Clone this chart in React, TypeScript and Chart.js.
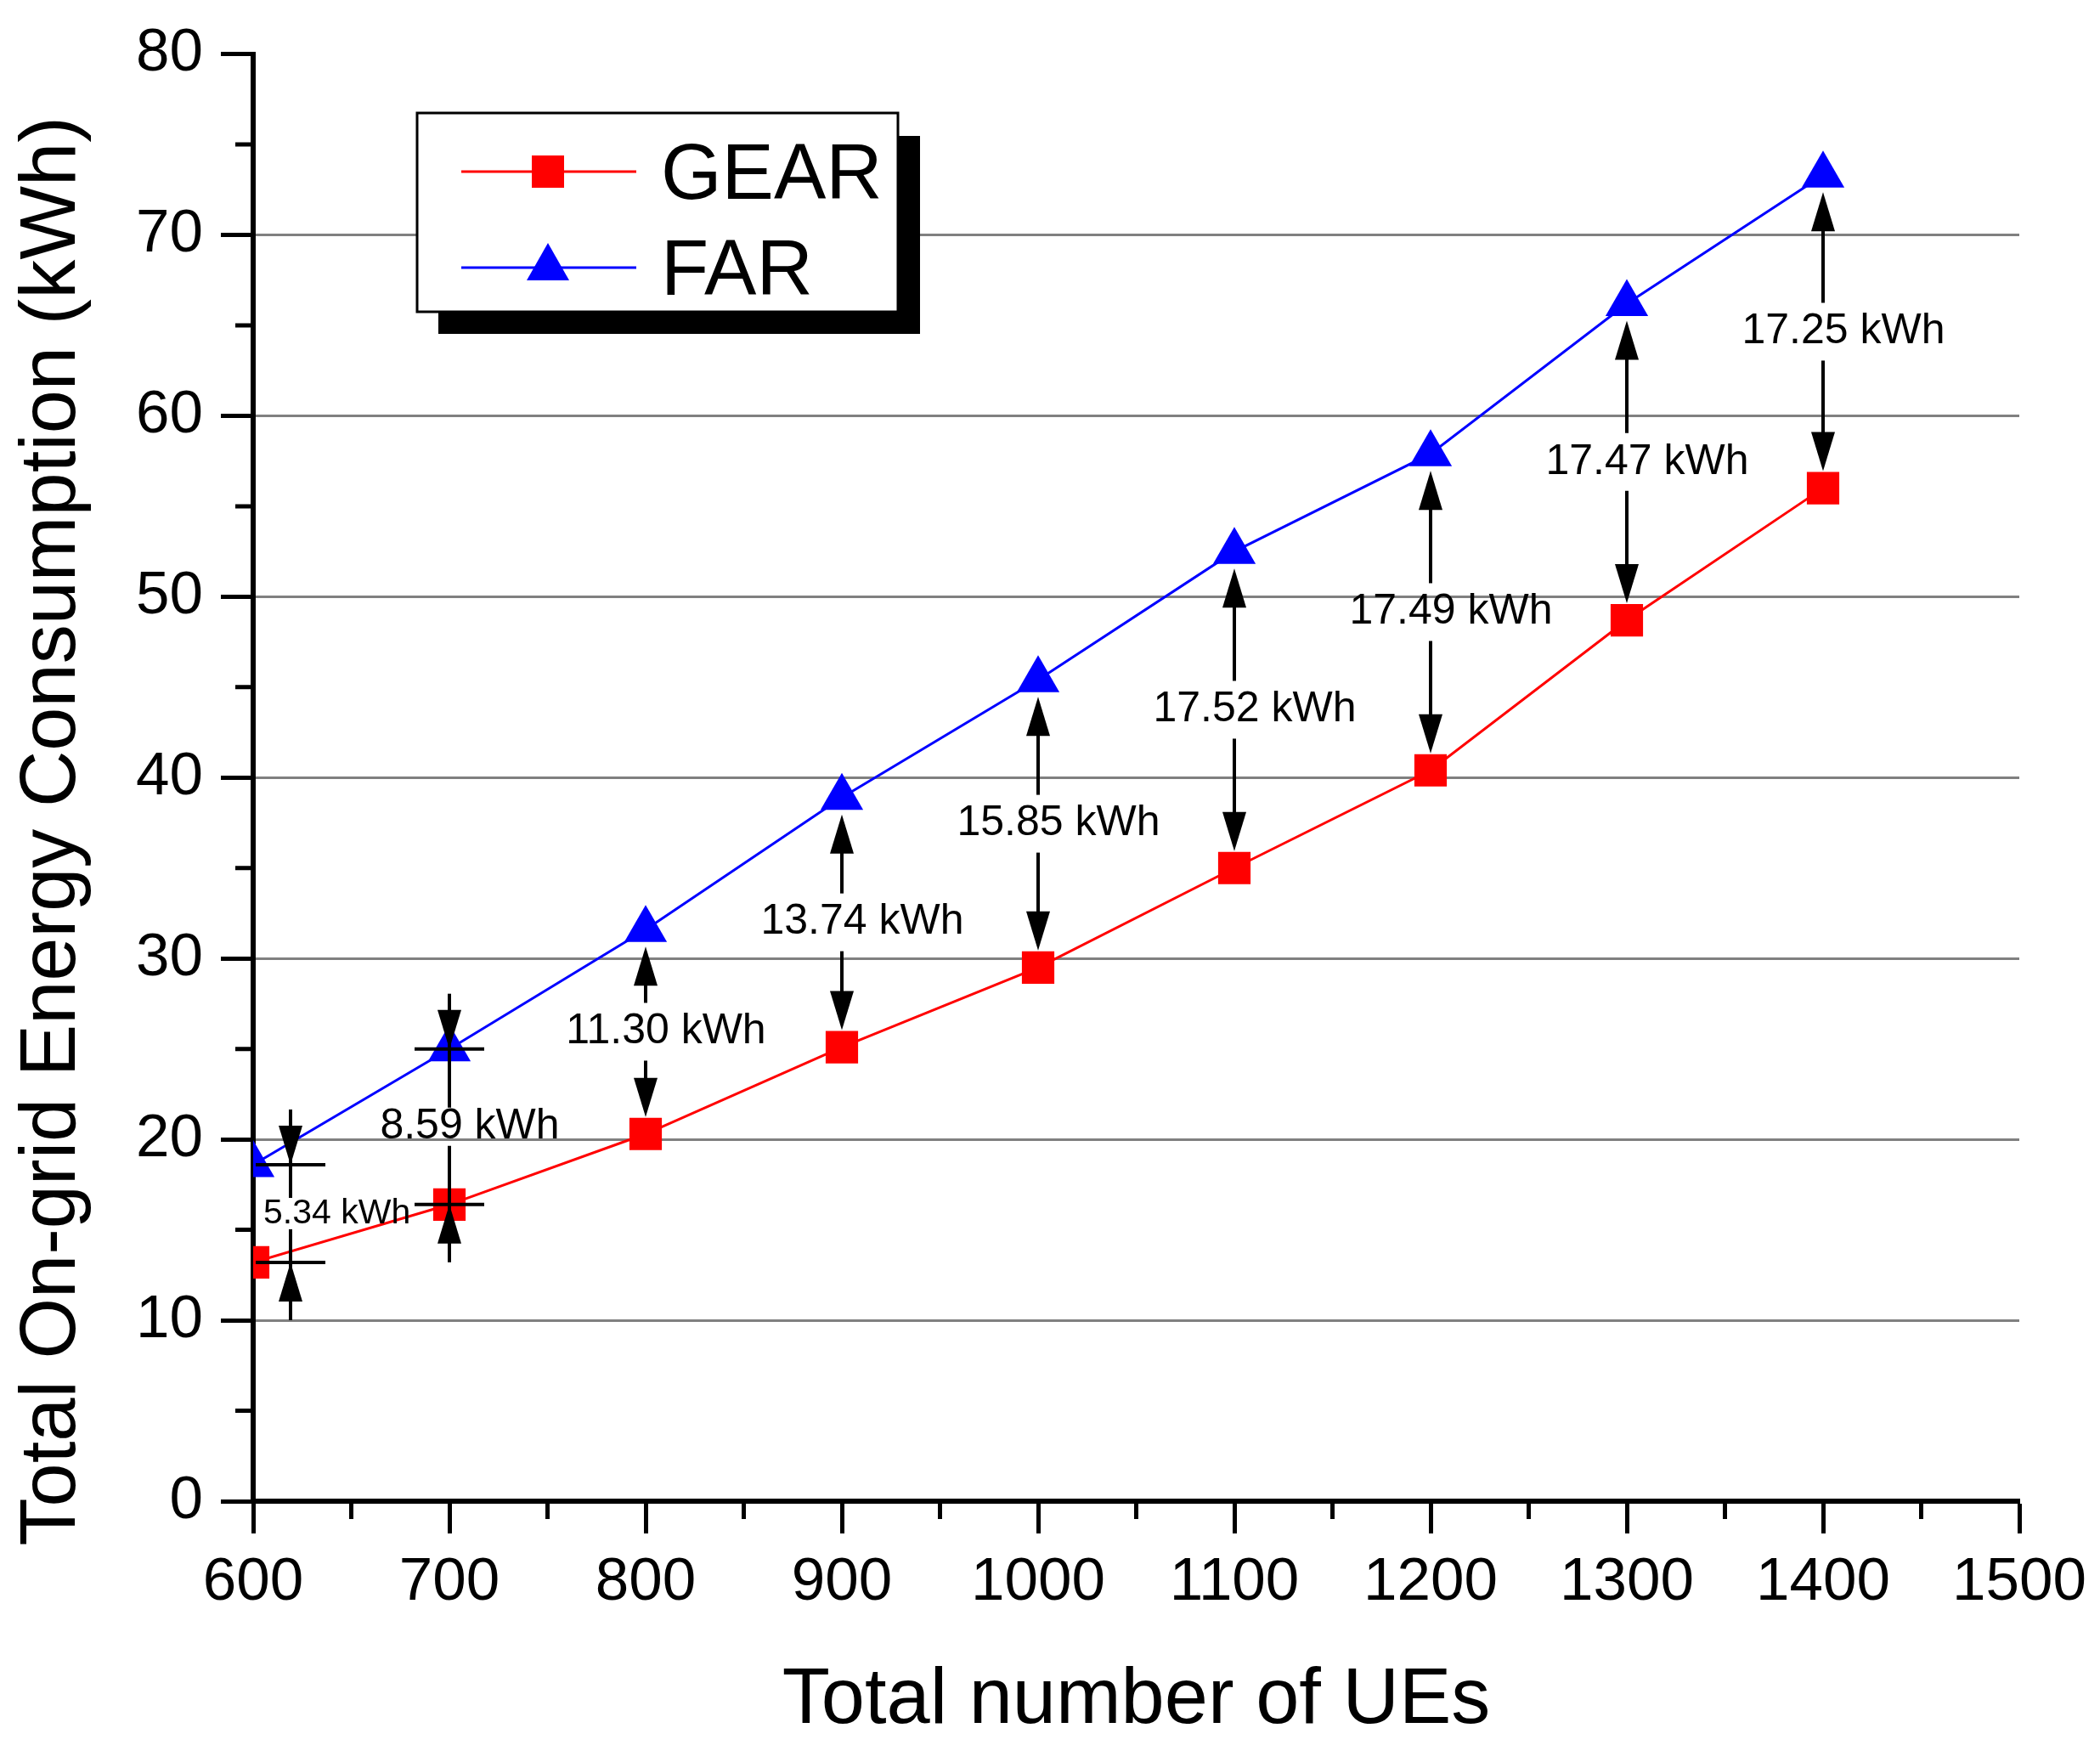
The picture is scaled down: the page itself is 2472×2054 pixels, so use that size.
import { useEffect, useRef } from "react";
import { Chart, registerables, Plugin } from "chart.js";

Chart.register(...registerables);

const FONT = "'Liberation Sans', Arial, sans-serif";

// values
const ueCounts = [600, 700, 800, 900, 1000, 1100, 1200, 1300, 1400];
const gearEnergy = [13.2, 16.4, 20.3, 25.1, 29.5, 35.0, 40.4, 48.7, 56.0];
const farEnergy = [18.6, 25.0, 31.6, 38.9, 45.4, 52.5, 57.9, 66.2, 73.3];
const gapLabels = [
  "5.34 kWh",
  "8.59 kWh",
  "11.30 kWh",
  "13.74 kWh",
  "15.85 kWh",
  "17.52 kWh",
  "17.49 kWh",
  "17.47 kWh",
  "17.25 kWh",
];

function drawHead(ctx: CanvasRenderingContext2D, x: number, tipY: number, dir: number) {
  // dir = 1 -> pointing down, dir = -1 -> pointing up
  const len = 46;
  const half = 14;
  ctx.beginPath();
  ctx.moveTo(x, tipY);
  ctx.lineTo(x - half, tipY - dir * len);
  ctx.lineTo(x + half, tipY - dir * len);
  ctx.closePath();
  ctx.fill();
}

function seg(ctx: CanvasRenderingContext2D, x1: number, y1: number, x2: number, y2: number) {
  ctx.beginPath();
  ctx.moveTo(x1, y1);
  ctx.lineTo(x2, y2);
  ctx.stroke();
}

const gapArrows: Plugin<"line"> = {
  id: "gapArrows",
  afterDatasetsDraw(chart) {
    const { ctx, chartArea } = chart;
    const x = chart.scales.x;
    const y = chart.scales.y;
    ctx.save();
    ctx.strokeStyle = "#000";
    ctx.fillStyle = "#000";
    ctx.lineWidth = 4;
    ueCounts.forEach((n, i) => {
      const ax = Math.max(x.getPixelForValue(n), chartArea.left + 44);
      const yTop = y.getPixelForValue(farEnergy[i]);
      const yBot = y.getPixelForValue(gearEnergy[i]);
      const mid = (yTop + yBot) / 2;
      const gap = yBot - yTop;
      const size = gap < 150 ? 41 : 50;

      ctx.font = `${size}px ${FONT}`;
      ctx.textAlign = "center";
      ctx.textBaseline = "middle";
      const w = ctx.measureText(gapLabels[i]).width;
      const lx = Math.max(ax + 24, chartArea.left + 12 + w / 2);
      ctx.fillText(gapLabels[i], lx, mid);

      if (gap < 210) {
        // arrows outside, pointing inward
        const g = size * 0.45;
        seg(ctx, ax, yTop - 65, ax, mid - g);
        seg(ctx, ax, mid + g, ax, yBot + 68);
        seg(ctx, ax - 41, yTop, ax + 41, yTop);
        seg(ctx, ax - 41, yBot, ax + 41, yBot);
        drawHead(ctx, ax, yTop, 1);
        drawHead(ctx, ax, yBot, -1);
      } else {
        const upTip = yTop + 20;
        const downTip = yBot - 20;
        seg(ctx, ax, mid - 34, ax, upTip + 30);
        drawHead(ctx, ax, upTip, -1);
        seg(ctx, ax, mid + 34, ax, downTip - 30);
        drawHead(ctx, ax, downTip, 1);
      }
    });
    ctx.restore();
  },
};

const boxLegend: Plugin<"line"> = {
  id: "boxLegend",
  afterDatasetsDraw(chart) {
    const { ctx } = chart;
    ctx.save();
    // shadow
    ctx.fillStyle = "#000";
    ctx.fillRect(516, 160, 567, 233);
    // box
    ctx.fillStyle = "#fff";
    ctx.fillRect(491, 133, 566, 234);
    ctx.strokeStyle = "#000";
    ctx.lineWidth = 3;
    ctx.strokeRect(491, 133, 566, 234);

    const rows = [202, 315];
    chart.data.datasets.forEach((ds, i) => {
      const cy = rows[i];
      const color = ds.borderColor as string;
      ctx.strokeStyle = color;
      ctx.fillStyle = color;
      ctx.lineWidth = 3;
      seg(ctx, 543, cy, 749, cy);
      if (ds.pointStyle === "rect") {
        ctx.fillRect(645 - 19, cy - 19, 38, 38);
      } else {
        ctx.beginPath();
        ctx.moveTo(645, cy - 29);
        ctx.lineTo(645 + 25, cy + 15);
        ctx.lineTo(645 - 25, cy + 15);
        ctx.closePath();
        ctx.fill();
      }
      ctx.fillStyle = "#000";
      ctx.font = `92px ${FONT}`;
      ctx.textAlign = "left";
      ctx.textBaseline = "alphabetic";
      ctx.fillText(ds.label as string, 778, cy + 32);
    });
    ctx.restore();
  },
};

const axisExtras: Plugin<"line"> = {
  id: "axisExtras",
  afterDraw(chart) {
    const { ctx, chartArea } = chart;
    const x = chart.scales.x;
    const y = chart.scales.y;
    ctx.save();
    ctx.strokeStyle = "#000";
    ctx.lineWidth = 5;
    ctx.beginPath();
    const xt = x.ticks.map((t) => t.value);
    for (let i = 0; i < xt.length - 1; i++) {
      const px = x.getPixelForValue((xt[i] + xt[i + 1]) / 2);
      ctx.moveTo(px, chartArea.bottom);
      ctx.lineTo(px, chartArea.bottom + 21);
    }
    const yt = y.ticks.map((t) => t.value);
    for (let i = 0; i < yt.length - 1; i++) {
      const py = y.getPixelForValue((yt[i] + yt[i + 1]) / 2);
      ctx.moveTo(chartArea.left, py);
      ctx.lineTo(chartArea.left - 21, py);
    }
    ctx.stroke();

    // y axis title
    ctx.fillStyle = "#000";
    ctx.font = `92px ${FONT}`;
    ctx.textAlign = "center";
    ctx.textBaseline = "middle";
    ctx.translate(63, (chartArea.top + chartArea.bottom) / 2 + 63);
    ctx.rotate(-Math.PI / 2);
    ctx.fillText("Total On-grid Energy Consumption (kWh)", 0, 0);
    ctx.restore();
  },
};

export default function App() {
  const canvasRef = useRef<HTMLCanvasElement>(null);

  useEffect(() => {
    if (!canvasRef.current) return;
    document.body.style.margin = "0";

    const chart = new Chart(canvasRef.current, {
      type: "line",
      data: {
        datasets: [
          {
            label: "GEAR",
            data: ueCounts.map((n, i) => ({ x: n, y: gearEnergy[i] })),
            borderColor: "#ff0000",
            backgroundColor: "#ff0000",
            borderWidth: 3,
            pointStyle: "rect",
            pointRadius: 27,
            pointBorderWidth: 0,
            pointBackgroundColor: "#ff0000",
            tension: 0,
            clip: 0,
          },
          {
            label: "FAR",
            data: ueCounts.map((n, i) => ({ x: n, y: farEnergy[i] })),
            borderColor: "#0000ff",
            backgroundColor: "#0000ff",
            borderWidth: 3,
            pointStyle: "triangle",
            pointRadius: 29,
            pointBorderWidth: 0,
            pointBackgroundColor: "#0000ff",
            tension: 0,
            clip: 0,
          },
        ],
      },
      options: {
        responsive: false,
        animation: false,
        devicePixelRatio: 1,
        layout: { padding: { top: 51, right: 95, left: 0, bottom: 0 } },
        plugins: {
          legend: { display: false },
          tooltip: { enabled: false },
        },
        scales: {
          x: {
            type: "linear",
            min: 600,
            max: 1500,
            ticks: {
              stepSize: 100,
              autoSkip: false,
              maxRotation: 0,
              padding: 16,
              color: "#000",
              font: { family: FONT, size: 71 },
              callback: (v) => String(v),
            },
            grid: {
              drawOnChartArea: false,
              drawTicks: true,
              tickLength: 38,
              tickWidth: 5,
              tickColor: "#000",
            },
            border: { display: true, color: "#000", width: 6 },
            title: {
              display: true,
              text: "Total number of UEs",
              color: "#000",
              font: { family: FONT, size: 92 },
              padding: { top: 0, bottom: -4 },
            },
            afterFit: (scale) => {
              scale.height = 287;
            },
          },
          y: {
            min: 0,
            max: 80,
            ticks: {
              stepSize: 10,
              padding: 21,
              color: "#000",
              font: { family: FONT, size: 71 },
            },
            grid: {
              color: (c) =>
                c.tick && (c.tick.value === 80 || c.tick.value === 0)
                  ? "rgba(0,0,0,0)"
                  : "#808080",
              lineWidth: 3,
              tickLength: 38,
              tickWidth: 5,
              tickColor: "#000",
            },
            border: { display: true, color: "#000", width: 6 },
            afterFit: (scale) => {
              scale.width = 298;
            },
          },
        },
      },
      plugins: [gapArrows, boxLegend, axisExtras],
    });

    return () => {
      chart.destroy();
    };
  }, []);

  return (
    <div style={{ width: 2472, height: 2054, background: "#fff" }}>
      <canvas ref={canvasRef} width={2472} height={2054} style={{ display: "block" }} />
    </div>
  );
}
